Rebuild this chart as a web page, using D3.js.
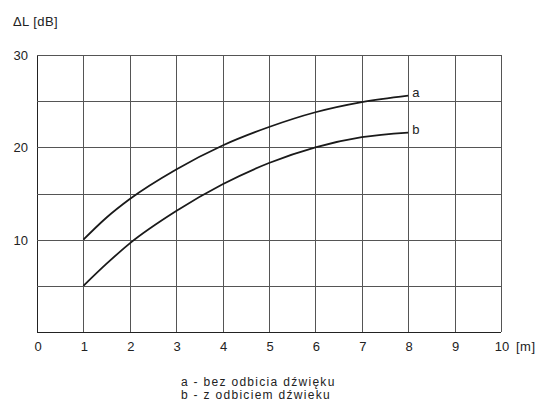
<!DOCTYPE html>
<html>
<head>
<meta charset="utf-8">
<script src="https://cdn.jsdelivr.net/npm/d3@7"></script>
<style>
  body { margin: 0; background: #fff; }
  text { font-family: "Liberation Sans", Arial, sans-serif; fill: #222; }
</style>
</head>
<body>
<div id="chart"></div>
<script>
// data
var distance = [1, 1.5, 2, 3, 4, 5, 6, 7, 8];
var curveA = [10, 12.4, 14.4, 17.6, 20.2, 22.2, 23.8, 24.9, 25.6];
var curveB = [5, 7.4, 9.6, 13.1, 16.0, 18.3, 20.0, 21.1, 21.6];
var xTicks = [0, 1, 2, 3, 4, 5, 6, 7, 8, 9, 10];
var yGrid = [0, 5, 10, 15, 20, 25, 30];
var yLabels = [10, 20, 30];
var legendLines = ["a - bez odbicia dźwięku", "b - z odbiciem dźwieku"];

var width = 539, height = 403;
var margin = { top: 55, right: 38, bottom: 71, left: 37 };

var svg = d3.select("#chart")
    .append("svg")
    .attr("width", width)
    .attr("height", height);

var x = d3.scaleLinear()
    .domain([0, 10])
    .range([margin.left, width - margin.right]);

var y = d3.scaleLinear()
    .domain([0, 30])
    .range([height - margin.bottom, margin.top]);

// grid
var grid = svg.append("g");
grid.selectAll(".vline")
    .data(xTicks)
    .enter()
    .append("line")
    .attr("x1", function(d) { return Math.round(x(d)) + 0.5; })
    .attr("x2", function(d) { return Math.round(x(d)) + 0.5; })
    .attr("y1", y(0))
    .attr("y2", y(30))
    .attr("stroke", function(d) { return d == 0 ? "#222" : "#555"; })
    .attr("stroke-width", 1);

grid.selectAll(".hline")
    .data(yGrid)
    .enter()
    .append("line")
    .attr("x1", x(0))
    .attr("x2", x(10))
    .attr("y1", function(d) { return Math.round(y(d)) + 0.5; })
    .attr("y2", function(d) { return Math.round(y(d)) + 0.5; })
    .attr("stroke", function(d) { return d == 0 ? "#222" : "#555"; })
    .attr("stroke-width", 1);

// x tick labels
svg.append("g")
    .selectAll("text")
    .data(xTicks)
    .enter()
    .append("text")
    .attr("x", function(d) { return x(d) + 1; })
    .attr("y", 351)
    .attr("text-anchor", "middle")
    .attr("font-size", "13px")
    .text(function(d) { return d; });

svg.append("text")
    .attr("x", 516)
    .attr("y", 351)
    .attr("font-size", "13px")
    .attr("letter-spacing", "0.5px")
    .text("[m]");

// y tick labels
svg.append("g")
    .selectAll("text")
    .data(yLabels)
    .enter()
    .append("text")
    .attr("x", 28)
    .attr("y", function(d) { return y(d) + 5; })
    .attr("text-anchor", "end")
    .attr("font-size", "13px")
    .text(function(d) { return d; });

svg.append("text")
    .attr("x", 13)
    .attr("y", 26)
    .attr("font-size", "13px")
    .attr("letter-spacing", "0.4px")
    .text("ΔL [dB]");

// curves
var line = d3.line()
    .x(function(d) { return x(d[0]); })
    .y(function(d) { return y(d[1]); })
    .curve(d3.curveMonotoneX);

[curveA, curveB].forEach(function(vals, i) {
    var pts = distance.map(function(d, j) { return [d, vals[j]]; });
    svg.append("path")
        .attr("d", line(pts))
        .attr("fill", "none")
        .attr("stroke", "#1a1a1a")
        .attr("stroke-width", 1.8);

    svg.append("text")
        .attr("x", x(8) + 4)
        .attr("y", y(vals[vals.length - 1]) + 1)
        .attr("font-size", "13px")
        .text(i == 0 ? "a" : "b");
});

// legend
svg.append("g")
    .selectAll("text")
    .data(legendLines)
    .enter()
    .append("text")
    .attr("x", 181)
    .attr("y", function(d, i) { return 386 + i * 13; })
    .attr("font-size", "12px")
    .attr("letter-spacing", "1.3px")
    .text(function(d) { return d; });
</script>
</body>
</html>
